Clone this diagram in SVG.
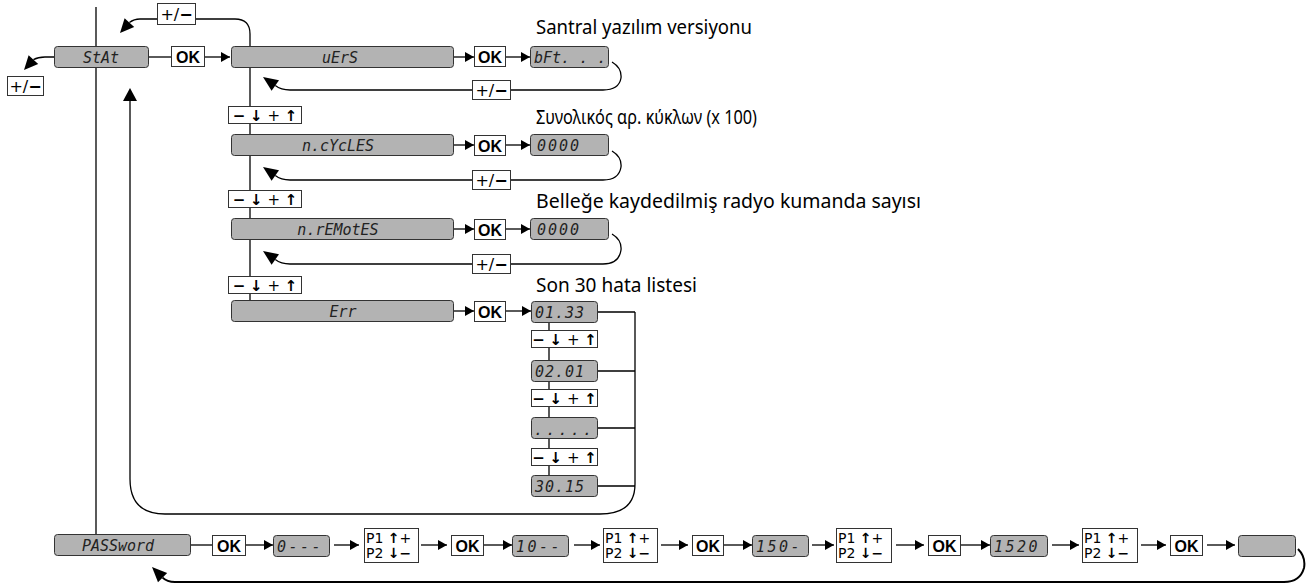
<svg xmlns="http://www.w3.org/2000/svg" width="1314" height="586" viewBox="0 0 1314 586">
<defs>
<marker id="ah" markerUnits="userSpaceOnUse" markerWidth="9" markerHeight="10" refX="9" refY="5" orient="auto" viewBox="0 0 9 10"><path d="M0,0 L9,5 L0,10 z" fill="#000"/></marker>
</defs>
<style>
.lcd{fill:#b3b3b3;stroke:#333;stroke-width:1}
.wb{fill:#fff;stroke:#333;stroke-width:1}
.ln{fill:none;stroke:#000;stroke-width:1.3}
.hd{fill:#000;stroke:none}
.lt{font-family:"DejaVu Sans Mono",monospace;font-size:15px;font-style:italic;fill:#222}
.ltc{font-family:"DejaVu Sans Mono",monospace;font-size:15px;font-style:italic;fill:#222;text-anchor:middle}
.ok{font-family:"Liberation Sans",Arial,sans-serif;font-weight:bold;font-size:16px;fill:#000;text-anchor:middle}
.pm{font-family:"DejaVu Sans",sans-serif;font-size:16px;fill:#000;text-anchor:middle}
.nv{font-family:"DejaVu Sans",sans-serif;font-size:15px;fill:#000;text-anchor:middle}
.pp{font-family:"DejaVu Sans",sans-serif;font-size:14px;fill:#000}
.b{font-weight:bold}
.lab{font-family:"Noto Sans","Open Sans",sans-serif;font-size:19px;fill:#000}
</style>

<g id="connectors">
  <path class="ln" d="M96,7 V534"/>
  <path class="ln" d="M250,67 V301"/>
  <path class="ln" d="M549,322 V475"/>
  <path class="ln" d="M54,57 H45 Q38,57 33.4,59.6"/>
  <polygon class="hd" points="24,70 38.2,64 28.6,55.2"/>
  <path class="ln" d="M250,46 V34 Q250,19 235,19 H140 Q134,19 129.4,22.6"/>
  <polygon class="hd" points="120,33 134.2,27 124.6,18.2"/>
  <path class="ln" d="M149,57 H171"/>
  <path class="ln" d="M204,57 H230" marker-end="url(#ah)"/>
  <path class="ln" d="M453,57 H474" marker-end="url(#ah)"/>
  <path class="ln" d="M505,57 H530" marker-end="url(#ah)"/>
  <path class="ln" d="M453,145 H474" marker-end="url(#ah)"/>
  <path class="ln" d="M505,145 H530" marker-end="url(#ah)"/>
  <path class="ln" d="M453,229 H474" marker-end="url(#ah)"/>
  <path class="ln" d="M505,229 H530" marker-end="url(#ah)"/>
  <path class="ln" d="M453,311 H474" marker-end="url(#ah)"/>
  <path class="ln" d="M505,311 H531" marker-end="url(#ah)"/>
  <path class="ln" d="M612,62 Q622,68 621,78 Q619,90 603,90 H290 Q281,90 275.3,85.5"/>
  <polygon class="hd" points="263,77 279,80.2 271.6,90.8"/>
  <path class="ln" d="M612,151 Q622,157 621,167 Q619,180 603,180 H290 Q281,180 275.3,175.5"/>
  <polygon class="hd" points="263,167 279,170.2 271.6,180.8"/>
  <path class="ln" d="M612,234 Q622,240 621,250 Q619,264 603,264 H290 Q281,264 275.3,259.5"/>
  <polygon class="hd" points="263,251 279,254.2 271.6,264.8"/>
  <path class="ln" d="M597,312 H635 M597,371 H635 M597,428 H635 M597,486 H635"/>
  <path class="ln" d="M635,312 V484 Q635,514 600,514 H165 Q130,514 130,479 V100"/>
  <polygon class="hd" points="130,88 137,101 123,101"/>
  <path class="ln" d="M190,545 H212"/>
  <path class="ln" d="M245,545 H273" marker-end="url(#ah)"/>
  <path class="ln" d="M334,545 H359" marker-end="url(#ah)"/>
  <path class="ln" d="M421,545 H447" marker-end="url(#ah)"/>
  <path class="ln" d="M483,545 H512" marker-end="url(#ah)"/>
  <path class="ln" d="M574,545 H600" marker-end="url(#ah)"/>
  <path class="ln" d="M661,545 H688" marker-end="url(#ah)"/>
  <path class="ln" d="M723,545 H752" marker-end="url(#ah)"/>
  <path class="ln" d="M812,545 H834" marker-end="url(#ah)"/>
  <path class="ln" d="M896,545 H924" marker-end="url(#ah)"/>
  <path class="ln" d="M960,545 H990" marker-end="url(#ah)"/>
  <path class="ln" d="M1052,545 H1079" marker-end="url(#ah)"/>
  <path class="ln" d="M1141,545 H1166" marker-end="url(#ah)"/>
  <path class="ln" d="M1207,545 H1235" marker-end="url(#ah)"/>
  <path class="ln" style="stroke-width:2" d="M1298,549 Q1306,557 1304,568 Q1300,582 1284,582 H175 Q167,582 162.6,577.6"/>
  <polygon class="hd" points="152,567 167.2,573 158,582.2"/>
</g>

<g id="labels">
  <text class="lab" x="536" y="34" textLength="216" lengthAdjust="spacingAndGlyphs">Santral yazılım versiyonu</text>
  <text class="lab" x="536" y="124" textLength="221" lengthAdjust="spacingAndGlyphs">Συνολικός αρ. κύκλων (x 100)</text>
  <text class="lab" x="536" y="208" textLength="385" lengthAdjust="spacingAndGlyphs">Belleğe kaydedilmiş radyo kumanda sayısı</text>
  <text class="lab" x="536" y="292" textLength="161" lengthAdjust="spacingAndGlyphs">Son 30 hata listesi</text>
</g>

<g id="stat"><rect class="lcd" x="54.5" y="46.5" width="94" height="21" rx="3"/><text class="ltc" x="101" y="62.5">StAt</text></g>
<g id="pm-stat"><rect class="wb" x="7.5" y="76.5" width="36" height="19"/><text class="pm" x="25.5" y="92">+/<tspan class="b">−</tspan></text></g>
<g id="pm-top"><rect class="wb" x="157.5" y="3.5" width="38" height="21"/><text class="pm" x="176.5" y="20">+/<tspan class="b">−</tspan></text></g>
<g id="ok-stat"><rect class="wb" x="171.5" y="46.5" width="33" height="20"/><text class="ok" x="188" y="62.5">OK</text></g>

<g id="vers"><rect class="lcd" x="231.5" y="46.5" width="222" height="21" rx="3"/><text class="ltc" x="340" y="62.5">uErS</text></g>
<g id="ok1"><rect class="wb" x="474.5" y="46.5" width="31" height="20"/><text class="ok" x="490" y="62.5">OK</text></g>
<g id="bft"><rect class="lcd" x="530.5" y="46.5" width="78" height="21" rx="3"/><text class="lt" x="534" y="62.5">bFt. . .</text></g>
<g id="pm1"><rect class="wb" x="472.5" y="80.5" width="38" height="19"/><text class="pm" x="491.5" y="96">+/<tspan class="b">−</tspan></text></g>
<g id="nav1"><rect class="wb" x="228.5" y="106.5" width="73" height="17"/><text class="nv" x="265" y="120.5"><tspan class="b">−</tspan> <tspan class="b">↓</tspan> + <tspan class="b">↑</tspan></text></g>

<g id="ncycles"><rect class="lcd" x="231.5" y="134.5" width="222" height="21" rx="3"/><text class="ltc" x="338" y="150.5">n.cYcLES</text></g>
<g id="ok2"><rect class="wb" x="474.5" y="135.5" width="31" height="20"/><text class="ok" x="490" y="151.5">OK</text></g>
<g id="cnt1"><rect class="lcd" x="530.5" y="134.5" width="78" height="21" rx="3"/><text class="lt" x="537" y="150.5" letter-spacing="2">0000</text></g>
<g id="pm2"><rect class="wb" x="472.5" y="170.5" width="38" height="19"/><text class="pm" x="491.5" y="186">+/<tspan class="b">−</tspan></text></g>
<g id="nav2"><rect class="wb" x="228.5" y="190.5" width="73" height="17"/><text class="nv" x="265" y="204.5"><tspan class="b">−</tspan> <tspan class="b">↓</tspan> + <tspan class="b">↑</tspan></text></g>

<g id="nremotes"><rect class="lcd" x="231.5" y="218.5" width="222" height="21" rx="3"/><text class="ltc" x="338" y="234.5">n.rEMotES</text></g>
<g id="ok3"><rect class="wb" x="474.5" y="219.5" width="31" height="20"/><text class="ok" x="490" y="235.5">OK</text></g>
<g id="cnt2"><rect class="lcd" x="530.5" y="218.5" width="78" height="21" rx="3"/><text class="lt" x="537" y="234.5" letter-spacing="2">0000</text></g>
<g id="pm3"><rect class="wb" x="472.5" y="254.5" width="38" height="19"/><text class="pm" x="491.5" y="270">+/<tspan class="b">−</tspan></text></g>
<g id="nav3"><rect class="wb" x="228.5" y="276.5" width="73" height="17"/><text class="nv" x="265" y="290.5"><tspan class="b">−</tspan> <tspan class="b">↓</tspan> + <tspan class="b">↑</tspan></text></g>

<g id="err"><rect class="lcd" x="231.5" y="300.5" width="222" height="21" rx="3"/><text class="ltc" x="343" y="316.5">Err</text></g>
<g id="ok4"><rect class="wb" x="474.5" y="301.5" width="31" height="20"/><text class="ok" x="490" y="317.5">OK</text></g>
<g id="e1"><rect class="lcd" x="531.5" y="301.5" width="66" height="21" rx="3"/><text class="lt" x="535" y="317.5" letter-spacing="1">01.33</text></g>
<g id="nav-e1"><rect class="wb" x="531.5" y="330.5" width="66" height="17"/><text class="nv" x="564.5" y="344.5"><tspan class="b">−</tspan> <tspan class="b">↓</tspan> + <tspan class="b">↑</tspan></text></g>
<g id="e2"><rect class="lcd" x="531.5" y="360.5" width="66" height="21" rx="3"/><text class="lt" x="535" y="376.5" letter-spacing="1">02.01</text></g>
<g id="nav-e2"><rect class="wb" x="531.5" y="389.5" width="66" height="17"/><text class="nv" x="564.5" y="403.5"><tspan class="b">−</tspan> <tspan class="b">↓</tspan> + <tspan class="b">↑</tspan></text></g>
<g id="e3"><rect class="lcd" x="531.5" y="417.5" width="66" height="21" rx="3"/><text class="lt" x="534" y="435" textLength="58" lengthAdjust="spacing">. . . . .</text></g>
<g id="nav-e3"><rect class="wb" x="531.5" y="448.5" width="66" height="17"/><text class="nv" x="564.5" y="462.5"><tspan class="b">−</tspan> <tspan class="b">↓</tspan> + <tspan class="b">↑</tspan></text></g>
<g id="e4"><rect class="lcd" x="531.5" y="475.5" width="66" height="21" rx="3"/><text class="lt" x="535" y="491.5" letter-spacing="1">30.15</text></g>

<g id="password"><rect class="lcd" x="54.5" y="534.5" width="136" height="21" rx="3"/><text class="ltc" x="118" y="550.5">PASSword</text></g>
<g id="okp1"><rect class="wb" x="212.5" y="535.5" width="33" height="20"/><text class="ok" x="229" y="551.5">OK</text></g>
<g id="d1"><rect class="lcd" x="273.5" y="535.5" width="56" height="21" rx="3"/><text class="lt" x="277" y="551.5" letter-spacing="2.5">0---</text></g>
<g id="p1"><rect class="wb" x="364.5" y="528.5" width="54" height="34"/><text class="pp" x="366" y="543">P1 <tspan class="b">↑</tspan>+</text><text class="pp" x="366" y="558">P2 <tspan class="b">↓</tspan><tspan class="b">−</tspan></text></g>
<g id="okp2"><rect class="wb" x="451.5" y="535.5" width="32" height="20"/><text class="ok" x="467.5" y="551.5">OK</text></g>
<g id="d2"><rect class="lcd" x="512.5" y="535.5" width="56" height="21" rx="3"/><text class="lt" x="516" y="551.5" letter-spacing="2.5">10--</text></g>
<g id="p2"><rect class="wb" x="603.5" y="528.5" width="54" height="34"/><text class="pp" x="605" y="543">P1 <tspan class="b">↑</tspan>+</text><text class="pp" x="605" y="558">P2 <tspan class="b">↓</tspan><tspan class="b">−</tspan></text></g>
<g id="okp3"><rect class="wb" x="692.5" y="535.5" width="31" height="20"/><text class="ok" x="708" y="551.5">OK</text></g>
<g id="d3"><rect class="lcd" x="752.5" y="535.5" width="56" height="21" rx="3"/><text class="lt" x="756" y="551.5" letter-spacing="2.5">150-</text></g>
<g id="p3"><rect class="wb" x="836.5" y="528.5" width="55" height="34"/><text class="pp" x="838" y="543">P1 <tspan class="b">↑</tspan>+</text><text class="pp" x="838" y="558">P2 <tspan class="b">↓</tspan><tspan class="b">−</tspan></text></g>
<g id="okp4"><rect class="wb" x="928.5" y="535.5" width="32" height="20"/><text class="ok" x="944.5" y="551.5">OK</text></g>
<g id="d4"><rect class="lcd" x="990.5" y="535.5" width="57" height="21" rx="3"/><text class="lt" x="994" y="551.5" letter-spacing="2.5">1520</text></g>
<g id="p4"><rect class="wb" x="1082.5" y="528.5" width="55" height="34"/><text class="pp" x="1084" y="543">P1 <tspan class="b">↑</tspan>+</text><text class="pp" x="1084" y="558">P2 <tspan class="b">↓</tspan><tspan class="b">−</tspan></text></g>
<g id="okp5"><rect class="wb" x="1170.5" y="535.5" width="32" height="20"/><text class="ok" x="1186.5" y="551.5">OK</text></g>
<g id="d5"><rect class="lcd" x="1238.5" y="535.5" width="57" height="21" rx="3"/></g>
</svg>
